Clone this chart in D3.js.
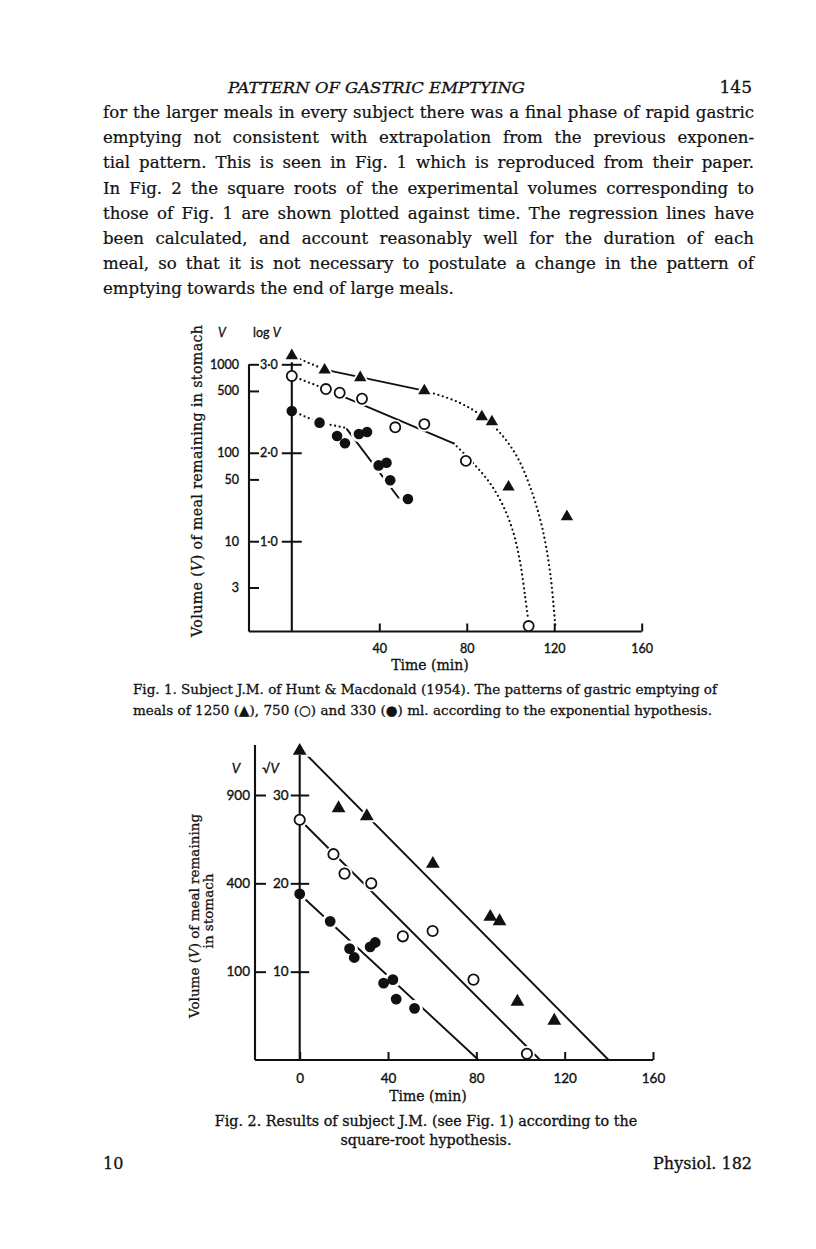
<!DOCTYPE html>
<html>
<head>
<meta charset="utf-8">
<script src="https://cdn.jsdelivr.net/npm/d3@7"></script>
<style>
  body { margin: 0; background: #fff; }
  svg { display: block; }
</style>
</head>
<body>
<svg id="page" width="816" height="1249"></svg>
<script>
// Page text
const headTitle = "PATTERN OF GASTRIC EMPTYING";
const headPage = "145";
const bodyLines = [
  "for the larger meals in every subject there was a final phase of rapid gastric",
  "emptying not consistent with extrapolation from the previous exponen-",
  "tial pattern. This is seen in Fig. 1 which is reproduced from their paper.",
  "In Fig. 2 the square roots of the experimental volumes corresponding to",
  "those of Fig. 1 are shown plotted against time. The regression lines have",
  "been calculated, and account reasonably well for the duration of each",
  "meal, so that it is not necessary to postulate a change in the pattern of",
  "emptying towards the end of large meals.",
];
const fig1Caption = [
  "Fig. 1. Subject J.M. of Hunt & Macdonald (1954). The patterns of gastric emptying of",
  "meals of 1250 (\u25B2), 750 (\u25CB) and 330 (\u25CF) ml. according to the exponential hypothesis.",
];
const fig2Caption = [
  "Fig. 2.  Results of subject J.M. (see Fig. 1) according to the",
  "square-root hypothesis.",
];
const footLeft = "10";
const footRight = "Physiol. 182";

// Fig. 1: [time (min), V (ml)], log V scale
const fig1TimeTicks = [40, 80, 120, 160];
const fig1VTicks = [3, 10, 50, 100, 500, 1000];
const fig1LogTicks = [10, 100, 1000];
const fig1Tri = [[0, 1250], [15, 862], [31.3, 705], [60.6, 502], [86.9, 255], [91.5, 224], [99.1, 41], [125.8, 19]];
const fig1Open = [[0, 738], [15.6, 525], [21.9, 477], [32.1, 408], [47.3, 194], [60.6, 211], [79.6, 81], [108.3, 1.1]];
const fig1Filled = [[0, 297], [12.7, 219], [20.7, 155], [24.3, 128], [30.7, 163], [34.4, 172], [39.7, 72], [43.3, 77], [45, 49], [53.1, 30]];
const fig1TriSolid = [[15, 870], [61, 500]];
const fig1TriDotLead = [[0, 1250], [15, 870]];
const fig1TriDotTail = [[61, 500], [75.5, 379], [86.2, 268], [95.3, 167], [102.9, 91], [109, 41], [114.4, 14.6], [118.2, 4.3], [120.5, 1.08]];
const fig1OpenSolid = [[22.2, 446], [74, 128]];
const fig1OpenDotLead = [[0, 738], [15.6, 525]];
const fig1OpenDotTail = [[74, 128], [83, 76], [90.7, 45], [96.8, 24.6], [101.4, 12.3], [104.5, 5.6], [106.7, 2.36], [108.3, 1.18]];
const fig1FilledSolid = [[25.2, 185], [48.8, 31]];
const fig1FilledDotLead = [[0, 297], [12.7, 219], [25.2, 190]];

// Fig. 2: [time (min), sqrt V]
const fig2TimeTicks = [0, 40, 80, 120, 160];
const fig2VTicks = [100, 400, 900];
const fig2RootTicks = [10, 20, 30];
const fig2Tri = [[0, 35], [17.6, 28.5], [30.4, 27.6], [60.3, 22.2], [86.3, 16.2], [90.5, 15.7], [98.6, 6.6], [115.3, 4.45]];
const fig2Open = [[0, 27.2], [15.3, 23.3], [20.3, 21.1], [32.4, 20.0], [46.7, 14.0], [60.2, 14.6], [78.7, 9.1], [102.9, 0.7]];
const fig2Filled = [[0, 18.8], [13.8, 15.7], [22.6, 12.6], [24.7, 11.6], [31.9, 12.8], [34.2, 13.3], [38, 8.7], [42.2, 9.1], [43.7, 6.9], [52, 5.85]];
const fig2TriLine = [[3.3, 34.5], [139.9, 0]];
const fig2OpenLine = [[2.5, 26.6], [108.9, 0]];
const fig2FilledLine = [[2.5, 18.2], [81, 0]];

const ink = "#111";
const serif = '"DejaVu Serif", "Liberation Serif", serif';
const sans = 'Lato, "Open Sans", "DejaVu Sans", sans-serif';

const svg = d3.select("#page");
svg.append("rect").attr("width", 816).attr("height", 1249).attr("fill", "#fff");

function addText(parent, str, x, y, opts = {}) {
  const t = parent.append("text")
    .attr("x", x).attr("y", y)
    .attr("fill", ink)
    .attr("font-family", opts.family || serif)
    .attr("font-size", opts.size || 15)
    .attr("text-anchor", opts.anchor || "start")
    .text(str);
  if (opts.italic) t.attr("font-style", "italic");
  if (opts.bold !== false) t.attr("stroke", ink).attr("stroke-width", opts.bold || 0.3);
  return t;
}

// justify a line by spreading the gaps between words
function justify(t, width) {
  const natural = t.node().getComputedTextLength();
  const gaps = (t.text().match(/ /g) || []).length;
  if (gaps) t.attr("word-spacing", (width - natural) / gaps);
  return t;
}

// Running head and body text
addText(svg, headTitle, 376.5, 93, { italic: true, size: 15.5, anchor: "middle" })
  .attr("textLength", 297).attr("lengthAdjust", "spacingAndGlyphs");
addText(svg, headPage, 752, 93, { size: 17, anchor: "end" });
bodyLines.forEach((line, i) => {
  const t = addText(svg, line, 103, 118 + i * 25.2, { size: 16.6, bold: 0.22 });
  if (i < bodyLines.length - 1) justify(t, 651);
});

// Shared drawing helpers
function drawLine(g, data, x, y, dotted, curve) {
  g.append("path")
    .datum(data)
    .attr("fill", "none")
    .attr("stroke", ink)
    .attr("stroke-width", dotted ? 2.3 : 1.9)
    .attr("stroke-linecap", "round")
    .attr("stroke-dasharray", dotted ? "0 4.6" : null)
    .attr("d", d3.line().x((d) => x(d[0])).y((d) => y(d[1])).curve(curve || d3.curveLinear));
}

function markerPath(kind, size) {
  return d3.symbol(kind === "tri" ? d3.symbolTriangle : d3.symbolCircle, size);
}

function drawHalos(g, data, x, y, kind, size) {
  g.append("g").selectAll("path").data(data).join("path")
    .attr("transform", (d) => `translate(${x(d[0])},${y(d[1])})`)
    .attr("d", markerPath(kind, size * 2.3))
    .attr("fill", "#fff");
}

function drawMarkers(g, data, x, y, kind, size) {
  g.append("g").selectAll("path").data(data).join("path")
    .attr("transform", (d) => `translate(${x(d[0])},${y(d[1])})`)
    .attr("d", markerPath(kind, size))
    .attr("fill", kind === "open" ? "#fff" : ink)
    .attr("stroke", kind === "open" ? ink : "none")
    .attr("stroke-width", 1.8);
}

function styleAxis(g, family, size) {
  g.select(".domain").remove();
  g.selectAll(".tick line").attr("stroke", ink).attr("stroke-width", 2);
  g.selectAll(".tick text").attr("fill", ink).attr("font-family", family).attr("font-size", size)
    .attr("stroke", ink).attr("stroke-width", 0.35);
}

function vline(g, x, y0, y1) {
  g.append("line").attr("x1", x).attr("x2", x).attr("y1", y0).attr("y2", y1)
    .attr("stroke", ink).attr("stroke-width", 2.1);
}
function hline(g, y, x0, x1) {
  g.append("line").attr("x1", x0).attr("x2", x1).attr("y1", y).attr("y2", y)
    .attr("stroke", ink).attr("stroke-width", 2.1);
}

// ---------------- Fig. 1 ----------------
const f1 = svg.append("g").attr("class", "fig1");
const fig1AxisX = 249;
const fig1Base = 631.5;
const x1 = d3.scaleLinear().domain([0, 160]).range([291.8, 641.7]);
const y1 = d3.scaleLog().domain([1, 1000]).range([629.7, 364.3]);

const f1Lines = f1.append("g");
drawLine(f1Lines, fig1TriSolid, x1, y1, false);
drawLine(f1Lines, fig1TriDotLead, x1, y1, true);
drawLine(f1Lines, fig1TriDotTail, x1, y1, true, d3.curveCatmullRom);
drawLine(f1Lines, fig1OpenSolid, x1, y1, false);
drawLine(f1Lines, fig1OpenDotLead, x1, y1, true);
drawLine(f1Lines, fig1OpenDotTail, x1, y1, true, d3.curveCatmullRom);
drawLine(f1Lines, fig1FilledSolid, x1, y1, false);
drawLine(f1Lines, fig1FilledDotLead, x1, y1, true);

drawHalos(f1, fig1Tri, x1, y1, "tri", 66);
drawHalos(f1, fig1Open, x1, y1, "circle", 80);
drawHalos(f1, fig1Filled, x1, y1, "circle", 88);

// axes
vline(f1, fig1AxisX, y1(1000), fig1Base);
hline(f1, fig1Base, fig1AxisX, x1(160));
vline(f1, x1(0), y1(1000) - 2, fig1Base);

f1.append("g")
  .attr("transform", `translate(${fig1AxisX},0)`)
  .call(d3.axisLeft(y1).tickValues(fig1VTicks).tickFormat(d3.format("d")).tickSize(-10).tickPadding(10))
  .call((g) => styleAxis(g, sans, 12.5));

f1.append("g")
  .attr("transform", `translate(${x1(0)},0)`)
  .call(d3.axisLeft(y1).tickValues(fig1LogTicks)
    .tickFormat((d) => d3.format(".1f")(Math.log10(d)).replace(".", "\u00B7"))
    .tickSize(10).tickPadding(4))
  .call((g) => styleAxis(g, sans, 12.5))
  .call((g) => g.selectAll(".tick line").attr("x1", 10));

f1.append("g")
  .attr("transform", `translate(0,${fig1Base})`)
  .call(d3.axisBottom(x1).tickValues(fig1TimeTicks).tickSize(-8).tickPadding(13))
  .call((g) => styleAxis(g, sans, 12.5));

drawMarkers(f1, fig1Tri, x1, y1, "tri", 66);
drawMarkers(f1, fig1Open, x1, y1, "open", 80);
drawMarkers(f1, fig1Filled, x1, y1, "circle", 88);

// labels
addText(f1, "V", 222, 337, { family: sans, size: 12.5, anchor: "middle", italic: true });
const f1log = addText(f1, "log ", 253, 337, { family: sans, size: 12.5 });
f1log.append("tspan").attr("font-style", "italic").text("V");
addText(f1, "Time (min)", 430, 670, { size: 14, anchor: "middle" });
const t1 = addText(f1, "", 0, 0, { size: 14.2, anchor: "middle" })
  .attr("transform", "translate(202,481) rotate(-90)")
  .attr("textLength", 312).attr("lengthAdjust", "spacing");
t1.append("tspan").text("Volume (");
t1.append("tspan").attr("font-style", "italic").text("V");
t1.append("tspan").text(") of meal remaining in stomach");

justify(addText(svg, fig1Caption[0], 133, 694, { size: 13.5 }), 584);
justify(addText(svg, fig1Caption[1], 133, 715, { size: 13.5 }), 579);

// ---------------- Fig. 2 ----------------
const f2 = svg.append("g").attr("class", "fig2");
const fig2AxisX = 255;
const fig2Base = 1060;
const x2 = d3.scaleLinear().domain([0, 160]).range([299.7, 653]);
const y2 = d3.scaleLinear().domain([0, 30]).range([fig2Base, 795]);
const yV2 = d3.scaleSqrt().domain([0, 900]).range([fig2Base, 795]);

const f2Lines = f2.append("g");
drawLine(f2Lines, fig2TriLine, x2, y2, false);
drawLine(f2Lines, fig2OpenLine, x2, y2, false);
drawLine(f2Lines, fig2FilledLine, x2, y2, false);

drawHalos(f2, fig2Tri, x2, y2, "tri", 82);
drawHalos(f2, fig2Open, x2, y2, "circle", 84);
drawHalos(f2, fig2Filled, x2, y2, "circle", 92);

vline(f2, fig2AxisX, 745, fig2Base);
hline(f2, fig2Base, fig2AxisX, x2(160));
vline(f2, x2(0), 755, fig2Base);

f2.append("g")
  .attr("transform", `translate(${fig2AxisX},0)`)
  .call(d3.axisLeft(yV2).tickValues(fig2VTicks).tickSize(-11).tickPadding(5))
  .call((g) => styleAxis(g, sans, 13.5));

f2.append("g")
  .attr("transform", `translate(${x2(0)},0)`)
  .call(d3.axisLeft(y2).tickValues(fig2RootTicks).tickSize(9).tickPadding(2))
  .call((g) => styleAxis(g, sans, 13.5))
  .call((g) => g.selectAll(".tick line").attr("x1", 9.5));

f2.append("g")
  .attr("transform", `translate(0,${fig2Base})`)
  .call(d3.axisBottom(x2).tickValues(fig2TimeTicks).tickSize(-8).tickPadding(13))
  .call((g) => styleAxis(g, sans, 13.5));

drawMarkers(f2, fig2Tri, x2, y2, "tri", 82);
drawMarkers(f2, fig2Open, x2, y2, "open", 84);
drawMarkers(f2, fig2Filled, x2, y2, "circle", 92);

addText(f2, "V", 236, 773, { family: sans, size: 13.5, anchor: "middle", italic: true });
const f2root = addText(f2, "\u221A", 262, 773, { family: sans, size: 13.5 });
f2root.append("tspan").attr("font-style", "italic").text("V");
addText(f2, "Time (min)", 428, 1101, { size: 14, anchor: "middle" });
const t2 = addText(f2, "", 0, 0, { size: 13.5, anchor: "middle" })
  .attr("transform", "translate(199,916) rotate(-90)");
t2.append("tspan").text("Volume (");
t2.append("tspan").attr("font-style", "italic").text("V");
t2.append("tspan").text(") of meal remaining");
addText(f2, "in stomach", 0, 0, { size: 13.5, anchor: "middle" })
  .attr("transform", "translate(213,911) rotate(-90)");

addText(svg, fig2Caption[0], 426, 1126, { size: 14.3, anchor: "middle" });
addText(svg, fig2Caption[1], 426, 1145, { size: 14.3, anchor: "middle" });

addText(svg, footLeft, 103, 1169, { size: 16 });
addText(svg, footRight, 752, 1169, { size: 16, anchor: "end" });
</script>
</body>
</html>
